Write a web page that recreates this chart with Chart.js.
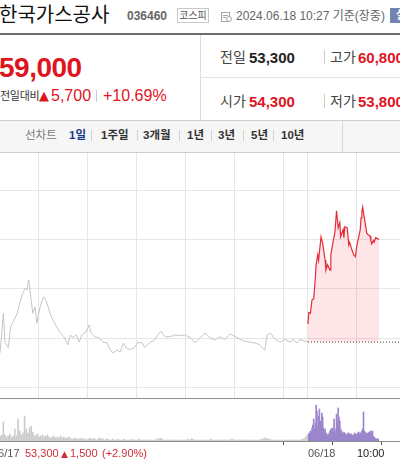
<!DOCTYPE html>
<html>
<head>
<meta charset="utf-8">
<title>한국가스공사 1일 차트</title>
<script src="https://cdn.jsdelivr.net/npm/chart.js@4.4.1/dist/chart.umd.min.js"></script>
<style>
body{margin:0;width:400px;height:465px;overflow:hidden;background:#fff;position:relative;font-family:"Liberation Sans",Arial,"Noto Sans CJK KR",sans-serif;}
.a{position:absolute;white-space:nowrap;}
.ln{position:absolute;}
.red{color:#e0141e;}
.tab{position:absolute;top:129px;font-size:11.5px;line-height:13px;font-weight:bold;color:#333;white-space:nowrap;}
.sep{position:absolute;top:130px;width:1px;height:11px;background:#d2d2d2;}
.lbl{font-size:14px;line-height:16px;color:#444;}
.val{font-size:15px;line-height:15px;font-weight:bold;}
.bot{position:absolute;top:447px;font-size:11px;line-height:12px;white-space:nowrap;color:#cf3038;}
</style>
</head>
<body>
<!-- header -->
<div class="a" style="left:-1px;top:4px;font-size:20px;line-height:20px;color:#111;font-family:'Noto Sans CJK KR',sans-serif;">한국가스공사</div>
<div class="a" style="left:127px;top:10px;font-size:12px;line-height:12px;font-weight:bold;color:#666;">036460</div>
<div class="a" style="left:177px;top:8px;width:30px;height:13px;border:1px solid #c8c8c8;font-size:10px;line-height:13px;text-align:center;color:#555;">코스피</div>
<svg class="a" style="left:221px;top:11px" width="11" height="11" viewBox="0 0 11 11">
  <rect x="0.5" y="1.5" width="8" height="9" fill="none" stroke="#a5a5a5"/>
  <line x1="2" y1="4.5" x2="7" y2="4.5" stroke="#a5a5a5"/>
  <line x1="2" y1="6.5" x2="5" y2="6.5" stroke="#a5a5a5"/>
  <circle cx="8" cy="8" r="2.5" fill="#fff" stroke="#a5a5a5"/>
</svg>
<div class="a" style="left:236px;top:10px;font-size:12px;line-height:13px;color:#666;">2024.06.18 10:27 기준(장중)</div>
<div class="a" style="left:390px;top:8px;width:22px;height:15px;background:#7484b0;color:#fff;font-size:11px;line-height:15px;text-align:center;font-weight:bold;">실</div>
<div class="ln" style="left:0;top:33px;width:400px;height:2px;background:#6c6c6c;"></div>

<!-- price summary -->
<div class="a red" style="left:-1px;top:54px;font-size:28px;line-height:28px;font-weight:bold;letter-spacing:-0.5px;">59,000</div>
<div class="a" style="left:0;top:89px;font-size:11px;line-height:14px;color:#333;letter-spacing:-0.3px;">전일대비</div>
<div class="a red" style="left:39px;top:89px;font-size:13px;line-height:13px;font-family:'DejaVu Sans',sans-serif;">▲</div>
<div class="a red" style="left:51px;top:87.5px;font-size:16px;line-height:16px;">5,700</div>
<div class="ln" style="left:96px;top:90px;width:1px;height:12px;background:#ccc;"></div>
<div class="a red" style="left:103px;top:87.5px;font-size:16px;line-height:16px;">+10.69%</div>

<div class="ln" style="left:200px;top:35px;width:1px;height:85px;background:#dcdcdc;"></div>
<div class="ln" style="left:200px;top:77px;width:200px;height:1px;background:#e3e3e3;"></div>
<div class="a lbl" style="left:220px;top:48.5px;">전일</div>
<div class="a val" style="left:249px;top:50.3px;color:#222;">53,300</div>
<div class="ln" style="left:324px;top:50px;width:1px;height:14px;background:#ccc;"></div>
<div class="a lbl" style="left:330px;top:48.5px;">고가</div>
<div class="a val red" style="left:358px;top:50.3px;">60,800</div>
<div class="a lbl" style="left:220px;top:93px;">시가</div>
<div class="a val red" style="left:249px;top:94.3px;">54,300</div>
<div class="ln" style="left:324px;top:94px;width:1px;height:14px;background:#ccc;"></div>
<div class="a lbl" style="left:330px;top:93px;">저가</div>
<div class="a val red" style="left:358px;top:94.3px;">53,800</div>

<!-- period tabs -->
<div class="ln" style="left:0;top:120px;width:400px;height:31px;background:#f6f6f6;border-top:1px solid #cfcfcf;border-bottom:1px solid #cfcfcf;"></div>
<div class="ln" style="left:342px;top:121px;width:1px;height:31px;background:#d8d8d8;"></div>
<div class="tab" style="left:25px;color:#7a7a7a;font-weight:normal;">선차트</div>
<div class="tab" style="left:69px;color:#173a8f;">1일</div>
<div class="sep" style="left:91px;"></div>
<div class="tab" style="left:101px;">1주일</div>
<div class="sep" style="left:137px;"></div>
<div class="tab" style="left:143px;">3개월</div>
<div class="sep" style="left:179px;"></div>
<div class="tab" style="left:187px;">1년</div>
<div class="sep" style="left:211px;"></div>
<div class="tab" style="left:218px;">3년</div>
<div class="sep" style="left:243px;"></div>
<div class="tab" style="left:251px;">5년</div>
<div class="sep" style="left:273px;"></div>
<div class="tab" style="left:281px;">10년</div>

<!-- charts -->
<canvas id="price" width="400" height="245" style="position:absolute;left:0;top:153px;"></canvas>
<div class="ln" style="left:0;top:398px;width:400px;height:1px;background:#929292;"></div>
<canvas id="volume" width="400" height="66" style="position:absolute;left:0;top:399px;"></canvas>

<div class="bot" style="left:-8px;color:#555;">06/17</div>
<div class="bot" style="left:25px;">53,300</div>
<div class="bot" style="left:61px;font-size:9px;font-family:'DejaVu Sans',sans-serif;top:448px;">▲</div>
<div class="bot" style="left:70px;">1,500</div>
<div class="bot" style="left:102px;">(+2.90%)</div>

<script>
// previous day 06/17 (grey line)
var prevTimes = ['09:13','09:17','09:19','09:23','09:26','09:30','09:34','09:37','09:41','09:44',
  '09:46','09:48','09:51','09:53','09:56','09:58','10:02','10:06','10:08','10:12',
  '10:14','10:18','10:23','10:26','10:31','10:36','10:39','10:42','10:46','10:50',
  '10:53','10:58','11:02','11:04','11:09','11:14','11:19','11:24','11:28','11:31',
  '11:36','11:40','11:44','11:48','11:52','11:57','12:02','12:07','12:10','12:17',
  '12:22','12:26','12:30','12:35','12:41','12:47','12:53','12:59','13:06','13:12',
  '13:18','13:24','13:30','13:36','13:42','13:48','13:55','14:01','14:07','14:13',
  '14:19','14:25','14:31','14:37','14:40','14:44','14:50','14:56','15:02','15:08',
  '15:12','15:17','15:20','15:30'];
var prevPrices = [52700,54900,53300,53000,54150,54500,54900,55450,56050,56300,
  56200,56750,55650,54900,55250,54350,55250,55800,55750,55250,
  54900,54500,54100,53850,53600,53150,53700,53550,53700,53300,
  53700,53850,54250,53850,53600,53550,53300,53250,52850,52700,
  52850,52750,53250,52950,52900,52950,53300,53250,53000,53300,
  53400,53700,53900,53600,53600,53700,53650,53700,53550,53250,
  53550,53800,53550,53400,53600,53450,53750,53600,53450,53350,
  53300,53250,53150,52850,53700,53800,53450,53300,53450,53300,
  53450,53250,53450,53300];

// today 06/18 (red line)
var todayTimes = ['09:00','09:01','09:03','09:05','09:07','09:09','09:10','09:12','09:13','09:16',
  '09:18','09:21','09:22','09:24','09:27','09:28','09:31','09:33','09:35','09:37',
  '09:39','09:40','09:43','09:44','09:45','09:48','09:50','09:51','09:54','09:56',
  '09:58','10:00','10:02','10:04','10:05','10:06','10:07','10:09','10:11','10:12',
  '10:14','10:16','10:17','10:18','10:20','10:21','10:23','10:25','10:27'];
var todayPrices = [54300,54950,54900,55650,55700,56850,57600,58150,57850,59150,
  58800,57850,57300,57600,57300,58150,58950,59400,60600,59650,
  59950,59150,59550,59100,59700,59650,58700,58850,58400,58150,
  58050,58700,59100,59550,60200,60550,60800,60200,59650,59350,
  59250,59200,58950,58750,58950,58850,59100,59050,59000];

var prevClose = 53300;

// volume, thousand shares
var prevVolStart = '09:13', prevVolStep = 2;
var prevVol = [5,6,19,6,4,5,7,4,5,12, 5,22,10,6,8,25,12,8,13,15,
  9,5,6,7,4,5,6,4,5,6, 4,3,4,5,3,4,3,5,3,4,
  3,3,4,3,2,2,3,2,2,2, 3,2,2,1,2,3,2,2,2,1,
  2,3,2,2,1,2,2,1,1,2, 1,1,2,1,1,1,2,1,1,1,
  1,2,1,1,1,2,1,1,1,1, 1,1,1,1,1,1,2,2,3,2,
  1,1,1,1,1,1,1,1,1,1, 1,1,1,1,1,2,1,2,2,1,
  1,1,1,1,1,1,1,1,1,2, 1,1,1,1,1,1,1,1,1,1,
  1,1,2,1,1,1,1,1,1,1, 1,1,1,1,1,1,1,1,1,1,
  2,2,3,3,2,2,1,1,1,1, 1,1,1,1,1,1,1,1,1,1,
  1,1,1,1,1,2,2,4,6];
var todayVolStart = '09:00';
var todayVol = [6,7,8,10,9,13,16,22,12,18, 36,30,14,25,32,20,17,28,24,13,
  10,12,8,7,5,6,8,10,12,11, 13,9,22,12,8,27,19,33,24,20,
  12,10,8,7,9,8,7,6,6,8, 8,7,6,7,6,6,5,8,7,6,
  7,8,9,7,8,8,10,12,29,10, 9,7,8,7,8,9,9,10,8,10,
  5,4,3,2,2,2,2];

var prevGridTimes = ['10:00','11:00','12:00','13:00','14:00','15:00'];
var todayGridTimes = ['09:00','10:00'];
var axisLabels = ['06/18','10:00'];
var gridPrices = [50750,53500,56250,59000,61750];

// minutes from 06/17 09:00, sessions glued together (390 min per day)
function toX(day, t) {
  var p = t.split(':');
  return day*390 + (+p[0])*60 + (+p[1]) - 540;
}

var viewMin = 12.9, viewMax = 502.7;
var priceMin = 50194, priceMax = 63806;

var prevPts = prevTimes.map(function(t, i){ return {x: toX(0, t), y: prevPrices[i]}; });
var todayPts = todayTimes.map(function(t, i){ return {x: toX(1, t), y: todayPrices[i]}; });
var closePts = [{x: toX(1, todayTimes[0]), y: prevClose}, {x: viewMax, y: prevClose}];
var gridX = prevGridTimes.map(function(t){ return toX(0, t); })
  .concat(todayGridTimes.map(function(t){ return toX(1, t); }));
var labelX = todayGridTimes.map(function(t){ return toX(1, t); });

var pvStart = toX(0, prevVolStart);
var prevVolPts = prevVol.map(function(v, i){ return {x: pvStart + i*prevVolStep, y: v}; });
var tvStart = toX(1, todayVolStart);
var todayVolPts = todayVol.map(function(v, i){ return {x: tvStart + i, y: v}; });

var base = {animation:false, responsive:false, events:[],
  plugins:{legend:{display:false}, tooltip:{enabled:false}}, layout:{padding:0}};

new Chart(document.getElementById('price'), {
  type: 'line',
  data: {datasets: [
    {data: todayPts, borderColor:'#e52b35', borderWidth:1.2, pointRadius:0, tension:0,
     fill:{value: prevClose}, backgroundColor:'rgba(244,40,55,0.12)', order:0},
    {data: closePts, borderColor:'#3a3a3a', borderWidth:1, borderDash:[1,2], pointRadius:0, fill:false, order:1},
    {data: prevPts, borderColor:'#c6c6c6', borderWidth:1, pointRadius:0, tension:0, fill:false, order:2}
  ]},
  options: Object.assign({}, base, {
    scales: {
      x: {type:'linear', min:viewMin, max:viewMax,
          afterBuildTicks: function(s){ s.ticks = gridX.map(function(v){ return {value:v}; }); },
          afterFit: function(s){ s.height = 0; },
          ticks:{display:false}, grid:{color:'#e6e6e6', drawTicks:false}, border:{display:false}},
      y: {min:priceMin, max:priceMax,
          afterBuildTicks: function(s){ s.ticks = gridPrices.map(function(v){ return {value:v}; }); },
          afterFit: function(s){ s.width = 0; },
          ticks:{display:false}, grid:{color:'#e6e6e6', drawTicks:false}, border:{display:false}}
    }
  })
});

new Chart(document.getElementById('volume'), {
  type: 'bar',
  data: {datasets: [
    {data: prevVolPts, backgroundColor:'#cbcbcb', barThickness:1, grouped:false},
    {data: todayVolPts, backgroundColor:'#9b86cc', barThickness:1, grouped:false}
  ]},
  options: Object.assign({}, base, {
    scales: {
      x: {type:'linear', min:viewMin, max:viewMax, offset:false,
          afterBuildTicks: function(s){ s.ticks = labelX.map(function(v){ return {value:v}; }); },
          afterFit: function(s){ s.height = 24; },
          grid:{drawOnChartArea:false, drawTicks:true, tickLength:4, color:'#555'},
          border:{display:true, color:'#8c8c8c'},
          ticks:{autoSkip:false, maxRotation:0, align:'start', padding:2,
                 font:{size:11, family:'Liberation Sans'},
                 color: function(c){ return c.index === 1 ? '#222' : '#555'; },
                 callback: function(v, i){ return axisLabels[i]; }}},
      y: {display:false, min:0, max:42}
    }
  })
});
</script>
</body>
</html>
